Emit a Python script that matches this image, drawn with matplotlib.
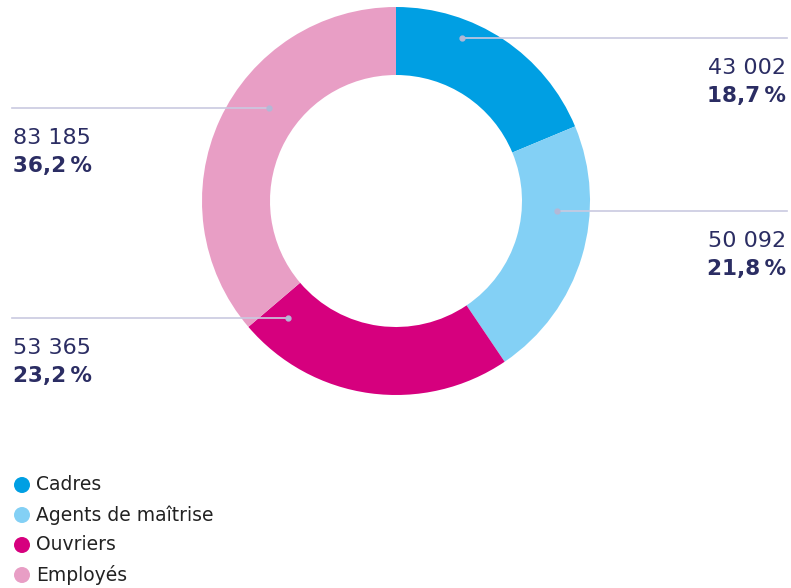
import matplotlib.pyplot as plt
from matplotlib.patches import Circle

plt.rcParams['font.family'] = ['DejaVu Sans']

# Effectifs par catégorie
categories = ['Cadres', 'Agents de maîtrise', 'Ouvriers', 'Employés']
effectifs = [43002, 50092, 53365, 83185]
parts = [18.7, 21.8, 23.2, 36.2]
effectifs_txt = ['43 002', '50 092', '53 365', '83 185']
parts_txt = ['18,7\u2009%', '21,8\u2009%', '23,2\u2009%', '36,2\u2009%']
colors = ['#009fe3', '#83d0f5', '#d6007e', '#e89ec5']

W, H = 791, 588
fig = plt.figure(figsize=(W / 100, H / 100), dpi=100)
ax = fig.add_axes([0, 0, 1, 1])

def py(y):
    # pixel row -> data y
    return H - y

cx, cy, r_out, ring = 396, py(201), 194, 68
ax.pie(parts, colors=colors, startangle=90, counterclock=False,
       center=(cx, cy), radius=r_out,
       wedgeprops=dict(width=ring, edgecolor='none'), frame=True)
ax.set_xlim(0, W)
ax.set_ylim(0, H)
ax.set_aspect('equal')
ax.axis('off')

navy = '#2b2d63'
line_c = '#c9c9e0'

# leader lines: (dot x, dot y, line end x, text x, align)
leaders = {
    'Cadres': (462, 38, 787, 786, 'right'),
    'Agents de maîtrise': (557, 211, 787, 786, 'right'),
    'Ouvriers': (288, 318, 12, 13, 'left'),
    'Employés': (269, 108, 12, 13, 'left'),
}
for i, cat in enumerate(categories):
    dx, dy, ex, tx, ha = leaders[cat]
    ax.plot([dx, ex], [py(dy), py(dy)], color=line_c, lw=1.2, zorder=5)
    ax.plot(dx, py(dy), 'o', color='#b4b8d6', ms=3.5, zorder=6)
    ax.text(tx, py(dy + 30), effectifs_txt[i], ha=ha, va='center',
            fontsize=16, color=navy)
    ax.text(tx, py(dy + 58), parts_txt[i], ha=ha, va='center',
            fontsize=15.5, color=navy, fontweight='bold')

# legend
for i, cat in enumerate(categories):
    y = py(485 + 30 * i)
    ax.add_patch(Circle((22, y), 8, color=colors[i], lw=0))
    ax.text(36, y, cat, ha='left', va='center', fontsize=13.5, color='#222222')

fig.savefig('out.png', dpi=100)
